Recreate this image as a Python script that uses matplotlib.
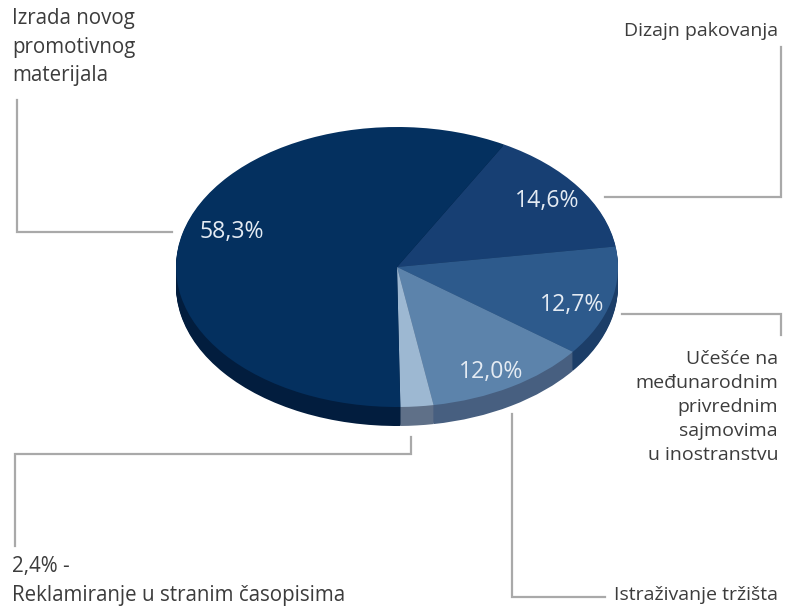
import matplotlib
matplotlib.use('Agg')
import matplotlib.pyplot as plt

plt.rcParams["font.family"] = ["Open Sans", "DejaVu Sans"]

# clockwise from the 14,6% slice
values = [14.6, 12.7, 12.0, 2.4, 58.3]
value_labels = ['14,6%', '12,7%', '12,0%', '', '58,3%']
top_colors = ['#173f73', '#2d5a8c', '#5c83ab', '#9db8d2', '#04305f']
side_colors = ['#0f2c52', '#1c3e68', '#475f80', '#5f7088', '#021d3e']

W, H = 793, 610
CX, CY, RX, RY = 397, 267, 221, 140
DEPTH = 19

# callouts: text, x, y, ha, font size
callouts = [
    ('Izrada novog\npromotivnog\nmaterijala', 12, 47, 'left', 14.8),
    ('Dizajn pakovanja', 778, 31, 'right', 14),
    ('Učešće na\nmeđunarodnim\nprivrednim\nsajmovima\nu inostranstvu', 778, 407, 'right', 14),
    ('2,4% -\nReklamiranje u stranim časopisima', 12, 581, 'left', 14.8),
    ('Istraživanje tržišta', 778, 595, 'right', 14),
]
leaders = [
    ([17, 17, 172], [100, 232, 232]),
    ([781, 781, 605], [47, 197, 197]),
    ([622, 781, 781], [314, 314, 335]),
    ([512, 512, 605], [414, 597, 597]),
    ([411, 411, 15, 15], [437, 454, 454, 546]),
]
pct_pos = [(547, 201), (572, 305), (491, 372), None, (232, 232)]


def to_axes(x0, y0):
    return [x0 / W, 1 - (y0 + 2 * RY) / H, 2 * RX / W, 2 * RY / H]


fig = plt.figure(figsize=(W / 100, H / 100), dpi=100)

# side of the disc, drawn as stacked copies of the pie
for d in range(DEPTH, 0, -1):
    ax = fig.add_axes(to_axes(CX - RX, CY - RY + d))
    ax.pie(values, colors=side_colors, startangle=61, counterclock=False, radius=1)
    ax.set_aspect('auto')
    ax.set_xlim(-1, 1)
    ax.set_ylim(-1, 1)

ax = fig.add_axes(to_axes(CX - RX, CY - RY))
ax.pie(values, colors=top_colors, startangle=61, counterclock=False, radius=1)
ax.set_aspect('auto')
ax.set_xlim(-1, 1)
ax.set_ylim(-1, 1)

# overlay in pixel coordinates for leaders and text
over = fig.add_axes([0, 0, 1, 1])
over.set_xlim(0, W)
over.set_ylim(H, 0)
over.set_axis_off()
over.patch.set_alpha(0)

for xs, ys in leaders:
    over.plot(xs, ys, color='#a9a9a9', lw=1.6, solid_joinstyle='miter')

for txt, x, y, ha, size in callouts:
    over.text(x, y, txt, ha=ha, va='center', fontsize=size, color='#3c3c3c',
              linespacing=1.45 if size > 14.5 else 1.42)

for lab, pos in zip(value_labels, pct_pos):
    if pos is not None:
        over.text(pos[0], pos[1], lab, ha='center', va='center', fontsize=16.6, color='#e4ebf3')

fig.savefig('out.png', dpi=100)
